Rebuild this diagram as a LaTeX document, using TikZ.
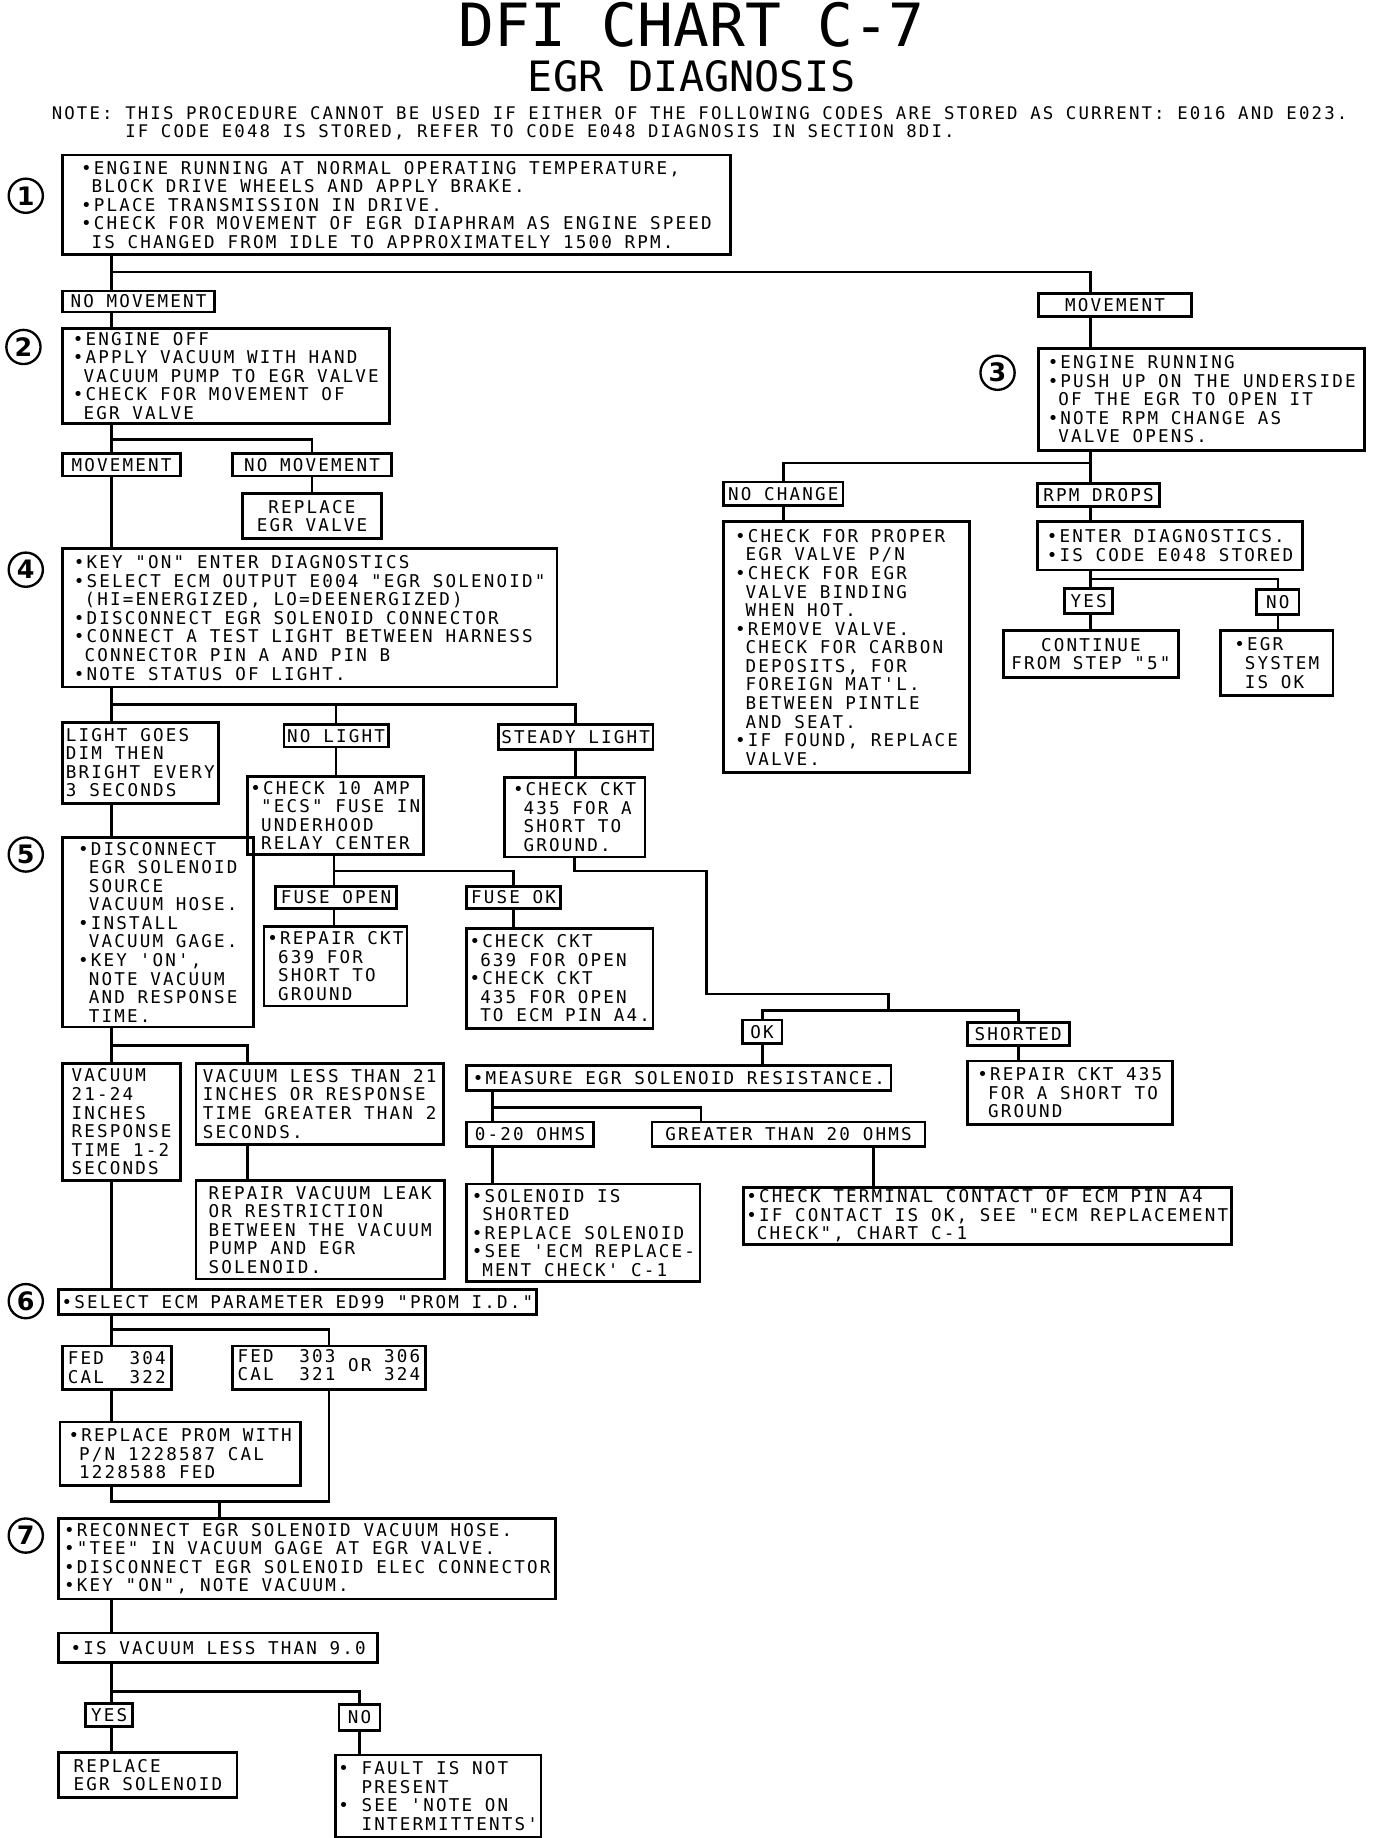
\documentclass[tikz,border=0pt]{standalone}
\usepackage{fontspec}
\newfontfamily\chartfont[LetterSpace=12.3]{DejaVu Sans Mono}
\newfontfamily\titlefont{DejaVu Sans Mono}
\newfontfamily\stepfont{DejaVu Sans}
\newcommand*\bu{•}
\newcommand*\ii{\hphantom{•}}

\begin{document}
\begin{tikzpicture}[x=0.6pt,y=-0.6pt,line width=1.4pt,
  box/.style={draw,anchor=north west,align=left,inner xsep=1.5pt,inner ysep=1pt,
    font=\chartfont\fontsize{9}{9.5}\selectfont},
  boxsize/.style 2 args={minimum width=(#1)*0.6pt,minimum height=(#2)*0.6pt},
  stepnum/.style={circle,draw,line width=1.2pt,minimum size=17.5pt,inner sep=0pt,
    font=\stepfont\bfseries\fontsize{13}{13}\selectfont}]
  \fill[white] (0,0) rectangle (1174,1568);
  \useasboundingbox (0,0) rectangle (1174,1568);

  % heading
  \node[font=\titlefont\fontsize{30.5}{32}\selectfont,anchor=base] (title) at (590,40) {DFI CHART C-7};
  \node[font=\titlefont\fontsize{21.4}{22}\selectfont,anchor=base] (subtitle) at (590,78) {EGR DIAGNOSIS};
  \node[font=\chartfont\fontsize{8.9}{9.3}\selectfont,anchor=north west,align=left,inner sep=0pt] (note) at (43,90)
    {NOTE: THIS PROCEDURE CANNOT BE USED IF EITHER OF THE FOLLOWING CODES ARE STORED AS CURRENT: E016 AND E023.\\
     \hphantom{NOTE: }IF CODE E048 IS STORED, REFER TO CODE E048 DIAGNOSIS IN SECTION 8DI.};

  % step markers
  \node[stepnum] (c1) at (22,167) {1};
  \node[stepnum] (c2) at (20,296) {2};
  \node[stepnum] (c3) at (851,318) {3};
  \node[stepnum] (c4) at (22,486) {4};
  \node[stepnum] (c5) at (22,729) {5};
  \node[stepnum] (c6) at (22,1110) {6};
  \node[stepnum] (c7) at (22,1310) {7};

  % left column
  \node[box,boxsize={570}{85}] (s1) at (52,131) {\bu ENGINE RUNNING AT NORMAL OPERATING TEMPERATURE,\\\ii BLOCK DRIVE WHEELS AND APPLY BRAKE.\\\bu PLACE TRANSMISSION IN DRIVE.\\\bu CHECK FOR MOVEMENT OF EGR DIAPHRAM AS ENGINE SPEED\\\ii IS CHANGED FROM IDLE TO APPROXIMATELY 1500 RPM.};
  \node[box,boxsize={130}{18}] (nomv1) at (52,247) {NO MOVEMENT};
  \node[box,boxsize={279}{81}] (s2) at (52,279) {\bu ENGINE OFF\\\bu APPLY VACUUM WITH HAND\\\ii VACUUM PUMP TO EGR VALVE\\\bu CHECK FOR MOVEMENT OF\\\ii EGR VALVE};
  \node[box,boxsize={101}{19}] (mv2) at (52,386) {MOVEMENT};
  \node[box,boxsize={136}{19}] (nomv2) at (197,386) {NO MOVEMENT};
  \node[box,boxsize={118}{38},align=center] (repvalve) at (206,420) {REPLACE\\EGR VALVE};
  \node[box,boxsize={422}{118}] (s4) at (52,467) {\bu KEY "ON" ENTER DIAGNOSTICS\\\bu SELECT ECM OUTPUT E004 "EGR SOLENOID"\\\ii (HI=ENERGIZED, LO=DEENERGIZED)\\\bu DISCONNECT EGR SOLENOID CONNECTOR\\\bu CONNECT A TEST LIGHT BETWEEN HARNESS\\\ii CONNECTOR PIN A AND PIN B\\\bu NOTE STATUS OF LIGHT.};
  \node[box,boxsize={133}{69}] (dim) at (52,615) {LIGHT GOES\\DIM THEN\\BRIGHT EVERY\\3 SECONDS};
  \node[box,boxsize={89}{19}] (nolight) at (241,617) {NO LIGHT};
  \node[box,boxsize={132}{21}] (steady) at (424,617) {STEADY LIGHT};
  \node[box,boxsize={147}{67}] (chkfuse) at (210,661) {\bu CHECK 10 AMP\\\ii "ECS" FUSE IN\\\ii UNDERHOOD\\\ii RELAY CENTER};
  \node[box,boxsize={120}{68}] (chkshort) at (429,662) {\bu CHECK CKT\\\ii 435 FOR A\\\ii SHORT TO\\\ii GROUND.};
  \node[box,boxsize={163}{162}] (s5) at (52,713) {\bu DISCONNECT\\\ii EGR SOLENOID\\\ii SOURCE\\\ii VACUUM HOSE.\\\bu INSTALL\\\ii VACUUM GAGE.\\\bu KEY 'ON',\\\ii NOTE VACUUM\\\ii AND RESPONSE\\\ii TIME.};
  \node[box,boxsize={103}{19}] (fuseopen) at (234,755) {FUSE OPEN};
  \node[box,boxsize={80}{19}] (fuseok) at (397,755) {FUSE OK};
  \node[box,boxsize={122}{68}] (repair639) at (224,789) {\bu REPAIR CKT\\\ii 639 FOR\\\ii SHORT TO\\\ii GROUND};
  \node[box,boxsize={158}{85}] (chkopen) at (397,791) {\bu CHECK CKT\\\ii 639 FOR OPEN\\\bu CHECK CKT\\\ii 435 FOR OPEN\\\ii TO ECM PIN A4.};
  \node[box,boxsize={34}{20}] (ok) at (632,869) {OK};
  \node[box,boxsize={87}{20}] (shorted) at (824,871) {SHORTED};
  \node[box,boxsize={175}{54}] (rep435) at (824,904) {\bu REPAIR CKT 435\\\ii FOR A SHORT TO\\\ii GROUND};
  \node[box,boxsize={362}{21}] (measure) at (397,908) {\bu MEASURE EGR SOLENOID RESISTANCE.};
  \node[box,boxsize={108}{21}] (ohms) at (397,956) {0-20 OHMS};
  \node[box,boxsize={233}{21}] (greater) at (555,956) {GREATER THAN 20 OHMS};
  \node[box,boxsize={199}{83}] (solshort) at (397,1009) {\bu SOLENOID IS\\\ii SHORTED\\\bu REPLACE SOLENOID\\\bu SEE 'ECM REPLACE-\\\ii MENT CHECK' C-1};
  \node[box,boxsize={412}{48}] (terminal) at (633,1012) {\bu CHECK TERMINAL CONTACT OF ECM PIN A4\\\bu IF CONTACT IS OK, SEE "ECM REPLACEMENT\\\ii CHECK", CHART C-1};
  \node[box,boxsize={101}{100}] (vac21) at (52,906) {VACUUM\\21-24\\INCHES\\RESPONSE\\TIME 1-2\\SECONDS};
  \node[box,boxsize={211}{69}] (vacless) at (166,906) {VACUUM LESS THAN 21\\INCHES OR RESPONSE\\TIME GREATER THAN 2\\SECONDS.};
  \node[box,boxsize={212}{84}] (repleak) at (166,1006) {REPAIR VACUUM LEAK\\OR RESTRICTION\\BETWEEN THE VACUUM\\PUMP AND EGR\\SOLENOID.};
  \node[box,boxsize={402}{21}] (s6) at (49,1099) {\bu SELECT ECM PARAMETER ED99 "PROM I.D."};
  \node[box,boxsize={93}{37}] (fed304) at (52,1147) {FED\ \ 304\\CAL\ \ 322};
  \node[box,boxsize={165}{37}] (fed303) at (197,1147) {\begin{tabular}{@{}l@{\ \ }l@{}}FED&303\\CAL&321\end{tabular}\ OR\ \begin{tabular}{@{}l@{}}306\\324\end{tabular}};
  \node[box,boxsize={205}{54}] (prom) at (50,1212) {\bu REPLACE PROM WITH\\\ii P/N 1228587 CAL\\\ii 1228588 FED};
  \node[box,boxsize={424}{69}] (s7) at (49,1294) {\bu RECONNECT EGR SOLENOID VACUUM HOSE.\\\bu "TEE" IN VACUUM GAGE AT EGR VALVE.\\\bu DISCONNECT EGR SOLENOID ELEC CONNECTOR\\\bu KEY "ON", NOTE VACUUM.};
  \node[box,boxsize={272}{25}] (isvac) at (49,1392) {\bu IS VACUUM LESS THAN 9.0};
  \node[box,boxsize={40}{20}] (yes7) at (72,1452) {YES};
  \node[box,boxsize={35}{22}] (no7) at (288,1453) {NO};
  \node[box,boxsize={152}{38}] (repsol) at (49,1494) {REPLACE\\EGR SOLENOID};
  \node[box,boxsize={173}{70}] (fault) at (285,1496) {\bu\ FAULT IS NOT\\\ii\ PRESENT\\\bu\ SEE 'NOTE ON\\\ii\ INTERMITTENTS'};

  % right column
  \node[box,boxsize={130}{20},align=center] (mv1) at (885,249) {MOVEMENT};
  \node[box,boxsize={278}{87}] (s3) at (885,296) {\bu ENGINE RUNNING\\\bu PUSH UP ON THE UNDERSIDE\\\ii OF THE EGR TO OPEN IT\\\bu NOTE RPM CHANGE AS\\\ii VALVE OPENS.};
  \node[box,boxsize={102}{20}] (nochg) at (616,410) {NO CHANGE};
  \node[box,boxsize={104}{20}] (rpmdrop) at (884,411) {RPM DROPS};
  \node[box,boxsize={210}{214}] (chkproper) at (616,444) {\bu CHECK FOR PROPER\\\ii EGR VALVE P/N\\\bu CHECK FOR EGR\\\ii VALVE BINDING\\\ii WHEN HOT.\\\bu REMOVE VALVE.\\\ii CHECK FOR CARBON\\\ii DEPOSITS, FOR\\\ii FOREIGN MAT'L.\\\ii BETWEEN PINTLE\\\ii AND SEAT.\\\bu IF FOUND, REPLACE\\\ii VALVE.};
  \node[box,boxsize={226}{41}] (enterdiag) at (884,444) {\bu ENTER DIAGNOSTICS.\\\bu IS CODE E048 STORED};
  \node[box,boxsize={41}{21}] (yes3) at (907,501) {YES};
  \node[box,boxsize={36}{21}] (no3) at (1071,502) {NO};
  \node[box,boxsize={149}{40},align=center] (contin) at (855,537) {CONTINUE\\FROM STEP "5"};
  \node[box,boxsize={96}{55}] (sysok) at (1040,537) {\bu EGR\\\ii SYSTEM\\\ii IS OK};

  % trunks and rails
  \coordinate (xl) at (95,0);
  \coordinate (xr) at (930,0);
  \coordinate (xm) at (420,0);
  \coordinate (xg) at (598,0);
  \coordinate (xt) at (745,0);
  \coordinate (xv) at (211,0);
  \coordinate (r1) at (95,232);
  \coordinate (r2) at (95,375);
  \coordinate (r3) at (930,395);
  \coordinate (r3b) at (930,494);
  \coordinate (r4) at (95,601);
  \coordinate (r5) at (285,743);
  \coordinate (k1) at (603,743);
  \coordinate (k2) at (758,848);
  \coordinate (r6) at (758,862);
  \coordinate (r7) at (420,945);
  \coordinate (r8) at (95,892);
  \coordinate (r9) at (95,1134);
  \coordinate (r10) at (187,1281);
  \coordinate (r11) at (95,1443);

  % connectors, left
  \draw (s1.south -| xl) -- (nomv1.north -| xl);
  \draw (r1) -| (mv1.north -| xr);
  \draw (nomv1.south -| xl) -- (s2.north -| xl);
  \draw (s2.south -| xl) -- (mv2.north -| xl);
  \draw (r2) -| (nomv2.north);
  \draw (nomv2.south) -- (repvalve.north);
  \draw (mv2.south -| xl) -- (s4.north -| xl);
  \draw (s4.south -| xl) -- (dim.north -| xl);
  \draw (r4) -| (steady.north);
  \draw (nolight.north |- r4) -- (nolight.north);
  \draw (nolight.south) -- (chkfuse.north -| nolight.south);
  \draw (steady.south) -- (chkshort.north -| steady.south);
  \draw (dim.south -| xl) -- (s5.north -| xl);
  \draw (chkfuse.south -| r5) -- (fuseopen.north -| r5);
  \draw (r5) -| (fuseok.north);
  \draw (fuseopen.south -| r5) -- (repair639.north -| r5);
  \draw (fuseok.south) -- (chkopen.north -| fuseok.south);
  \draw (chkshort.south) |- (k1) |- (k2) -- (r6);
  \draw (ok.north) |- (r6) -| (shorted.north);
  \draw (ok.south) -- (measure.north -| ok.south);
  \draw (shorted.south) -- (rep435.north -| shorted.south);
  \draw (measure.south -| xm) -- (ohms.north -| xm);
  \draw (r7) -| (greater.north -| xg);
  \draw (ohms.south -| xm) -- (solshort.north -| xm);
  \draw (greater.south -| xt) -- (terminal.north -| xt);
  \draw (s5.south -| xl) -- (vac21.north -| xl);
  \draw (r8) -| (vacless.north -| xv);
  \draw (vacless.south -| xv) -- (repleak.north -| xv);
  \draw (vac21.south -| xl) -- (s6.north -| xl);
  \draw (s6.south -| xl) -- (fed304.north -| xl);
  \draw (r9) -| (fed303.north);
  \draw (fed304.south -| xl) -- (prom.north -| xl);
  \draw (prom.south -| xl) |- (fed303.south |- r10) -- (fed303.south);
  \draw (r10) -- (s7.north -| r10);
  \draw (s7.south -| xl) -- (isvac.north -| xl);
  \draw (isvac.south -| xl) -- (yes7.north -| xl);
  \draw (r11) -| (no7.north);
  \draw (yes7.south -| xl) -- (repsol.north -| xl);
  \draw (no7.south) -- (fault.north -| no7.south);

  % connectors, right
  \draw (mv1.south -| xr) -- (s3.north -| xr);
  \draw (s3.south -| xr) -- (rpmdrop.north -| xr);
  \draw (r3) -| (nochg.north);
  \draw (nochg.south) -- (chkproper.north -| nochg.south);
  \draw (rpmdrop.south -| xr) -- (enterdiag.north -| xr);
  \draw (enterdiag.south -| xr) -- (yes3.north -| xr);
  \draw (r3b) -| (no3.north);
  \draw (yes3.south -| xr) -- (contin.north -| xr);
  \draw (no3.south) -- (sysok.north -| no3.south);
\end{tikzpicture}
\end{document}
